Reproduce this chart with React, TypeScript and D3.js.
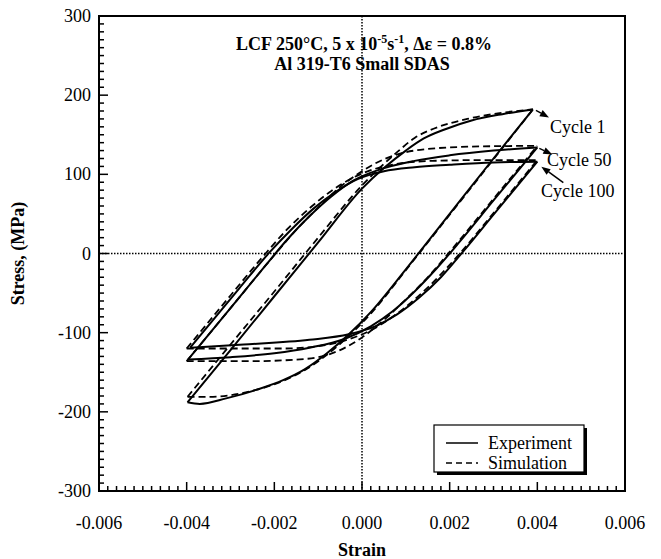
import React from "react";
import * as d3 from "d3";

type Pt = [number, number];

// Stress-strain hysteresis loops, strain (mm/mm) vs stress (MPa).
// Each loop is split into its tensile-going (upper) and compressive-going (lower) branch.
const cycle1ExpUpper: Pt[] = [
  [-0.00398, -188], [-0.003, -122], [-0.002, -54], [-0.001, 14], [0, 82], [0.0005, 108],
  [0.001, 130], [0.0014, 145], [0.0019, 157], [0.0025, 168], [0.0032, 176], [0.0039, 182],
];
const cycle1ExpLower: Pt[] = [
  [0.0039, 182], [0.003, 120], [0.002, 50], [0.001, -20], [0.0002, -74], [-0.0003, -102],
  [-0.0008, -126], [-0.0013, -146], [-0.0018, -160], [-0.0024, -172], [-0.0031, -183],
  [-0.0037, -190], [-0.00398, -188],
];
const cycle1SimUpper: Pt[] = [
  [-0.00398, -181], [-0.003, -115], [-0.002, -48], [-0.001, 20], [0, 86], [0.0004, 108],
  [0.0008, 128], [0.0012, 146], [0.0017, 159], [0.0024, 170], [0.0031, 177], [0.0039, 182],
];
const cycle1SimLower: Pt[] = [
  [0.0039, 182], [0.003, 119], [0.002, 49], [0.001, -21], [0.0002, -76], [-0.0003, -104],
  [-0.0008, -128], [-0.0013, -147], [-0.0018, -161], [-0.0024, -172], [-0.003, -179],
  [-0.0035, -181], [-0.00398, -181],
];

const cycle50ExpUpper: Pt[] = [
  [-0.00397, -134], [-0.003, -69], [-0.0022, -15], [-0.0017, 18], [-0.0012, 47], [-0.0007, 72],
  [-0.0002, 92], [0.0004, 106], [0.0012, 117], [0.002, 124], [0.003, 130], [0.004, 134],
];
const cycle50ExpLower: Pt[] = [
  [0.004, 134], [0.003, 67], [0.0022, 13], [0.0017, -19], [0.0012, -48], [0.0007, -73],
  [0.0002, -92], [-0.0004, -108], [-0.0012, -119], [-0.002, -126], [-0.003, -131], [-0.00397, -134],
];
const cycle50SimUpper: Pt[] = [
  [-0.004, -136], [-0.003, -69], [-0.002, -2], [-0.0015, 30], [-0.001, 58], [-0.0005, 84],
  [0, 104], [0.0005, 119], [0.001, 128], [0.0015, 132], [0.0025, 135], [0.004, 136],
];
const cycle50SimLower: Pt[] = [
  [0.004, 136], [0.003, 69], [0.002, 2], [0.0015, -30], [0.001, -58], [0.0005, -84],
  [0, -106], [-0.0005, -122], [-0.001, -131], [-0.0015, -134], [-0.0025, -136], [-0.004, -136],
];

const cycle100ExpUpper: Pt[] = [
  [-0.00392, -119], [-0.0028, -44], [-0.0021, 2], [-0.0016, 31], [-0.0011, 57], [-0.0006, 78],
  [-0.0001, 94], [0.0005, 104], [0.0012, 109], [0.002, 112], [0.003, 115], [0.004, 116],
];
const cycle100ExpLower: Pt[] = [
  [0.004, 116], [0.003, 49], [0.0023, 2], [0.0018, -30], [0.0013, -56], [0.0008, -77],
  [0.0003, -92], [-0.0003, -102], [-0.0012, -109], [-0.0027, -115], [-0.00392, -119],
];
const cycle100SimUpper: Pt[] = [
  [-0.004, -120], [-0.003, -53], [-0.0022, 0], [-0.0017, 31], [-0.0012, 57], [-0.0007, 79],
  [-0.0002, 96], [0.0003, 107], [0.0009, 114], [0.0016, 117], [0.0028, 118], [0.004, 118],
];
const cycle100SimLower: Pt[] = [
  [0.004, 118], [0.003, 51], [0.0022, -2], [0.0017, -32], [0.0012, -58], [0.0007, -80],
  [0.0002, -97], [-0.0004, -110], [-0.001, -117], [-0.0018, -120], [-0.003, -120], [-0.004, -120],
];

const experimentCurves: Pt[][] = [
  cycle1ExpUpper, cycle1ExpLower, cycle50ExpUpper, cycle50ExpLower, cycle100ExpUpper, cycle100ExpLower,
];
const simulationCurves: Pt[][] = [
  cycle1SimUpper, cycle1SimLower, cycle50SimUpper, cycle50SimLower, cycle100SimUpper, cycle100SimLower,
];

const xTicks = [-0.006, -0.004, -0.002, 0, 0.002, 0.004, 0.006];
const yTicks = [-300, -200, -100, 0, 100, 200, 300];
const cycleLabels = ["Cycle 1", "Cycle 50", "Cycle 100"];
const legendLabels = ["Experiment", "Simulation"];

const W = 661;
const H = 559;
const FONT = "'Liberation Serif', 'Times New Roman', serif";

const x = d3.scaleLinear().domain([-0.006, 0.006]).range([99, 625]);
const y = d3.scaleLinear().domain([-300, 300]).range([491, 16]);

const line = d3
  .line<Pt>()
  .x((d) => x(d[0]))
  .y((d) => y(d[1]))
  .curve(d3.curveMonotoneX);

const xMinor = d3.range(-0.006, 0.00601, 0.0002);
const yMinor = d3.range(-300, 301, 10);

function Arrow({ x1, y1, x2, y2 }: { x1: number; y1: number; x2: number; y2: number }) {
  const ang = Math.atan2(y2 - y1, x2 - x1);
  const len = 9;
  const half = 3.5;
  const bx = x2 - len * Math.cos(ang);
  const by = y2 - len * Math.sin(ang);
  const p1 = [bx + half * Math.sin(ang), by - half * Math.cos(ang)];
  const p2 = [bx - half * Math.sin(ang), by + half * Math.cos(ang)];
  return (
    <g>
      <line x1={x1} y1={y1} x2={bx} y2={by} stroke="#000" strokeWidth={1.5} />
      <polygon points={`${x2},${y2} ${p1[0]},${p1[1]} ${p2[0]},${p2[1]}`} fill="#000" />
    </g>
  );
}

export default function App() {
  const x0 = x(-0.006);
  const x1 = x(0.006);
  const yTop = y(300);
  const yBot = y(-300);

  const tip1 = cycle1ExpUpper[cycle1ExpUpper.length - 1];
  const tip50 = cycle50ExpUpper[cycle50ExpUpper.length - 1];
  const tip100 = cycle100ExpUpper[cycle100ExpUpper.length - 1];

  return (
    <svg
      width={W}
      height={H}
      style={{ position: "absolute", left: 0, top: 0, background: "#fff" }}
      fontFamily={FONT}
    >
      <rect x={0} y={0} width={W} height={H} fill="#fff" />

      {/* zero reference lines */}
      <line x1={x(0)} x2={x(0)} y1={yTop} y2={yBot} stroke="#000" strokeWidth={1.5} strokeDasharray="1.5,1.5" />
      <line x1={x0} x2={x1} y1={y(0)} y2={y(0)} stroke="#000" strokeWidth={1.5} strokeDasharray="1.5,1.5" />

      {/* loops */}
      {simulationCurves.map((c, i) => (
        <path key={`s${i}`} d={line([...c].sort((a, b) => a[0] - b[0])) ?? ""} fill="none" stroke="#000" strokeWidth={1.8} strokeDasharray="7,4" />
      ))}
      {experimentCurves.map((c, i) => (
        <path key={`e${i}`} d={line([...c].sort((a, b) => a[0] - b[0])) ?? ""} fill="none" stroke="#000" strokeWidth={2} strokeLinejoin="round" />
      ))}

      {/* frame */}
      <rect x={x0} y={yTop} width={x1 - x0} height={yBot - yTop} fill="none" stroke="#000" strokeWidth={2} />

      {/* bottom axis ticks */}
      {xMinor.map((v, i) => (
        <line key={`xm${i}`} x1={x(v)} x2={x(v)} y1={yBot} y2={yBot - (i % 10 === 0 ? 9 : 5)} stroke="#000" strokeWidth={1.5} />
      ))}
      {xTicks.map((v) => (
        <text key={`xt${v}`} x={x(v)} y={yBot + 38} textAnchor="middle" fontSize={18}>
          {v.toFixed(3)}
        </text>
      ))}

      {/* left axis ticks */}
      {yMinor.map((v, i) => (
        <line key={`ym${i}`} x1={x0} x2={x0 + (i % 10 === 0 ? 9 : 5)} y1={y(v)} y2={y(v)} stroke="#000" strokeWidth={1.5} />
      ))}
      {yTicks.map((v) => (
        <text key={`yt${v}`} x={x0 - 8} y={y(v) + 6} textAnchor="end" fontSize={18}>
          {v}
        </text>
      ))}

      {/* axis titles */}
      <text x={x(0)} y={556} textAnchor="middle" fontSize={18} fontWeight="bold">
        Strain
      </text>
      <text transform={`translate(24,${y(0)}) rotate(-90)`} textAnchor="middle" fontSize={18} fontWeight="bold">
        Stress, (MPa)
      </text>

      {/* chart title */}
      <text x={x(0) + 2} y={50} textAnchor="middle" fontSize={18} fontWeight="bold">
        LCF 250°C, 5 x 10
        <tspan dy={-7} fontSize={12}>-5</tspan>
        <tspan dy={7}>s</tspan>
        <tspan dy={-7} fontSize={12}>-1</tspan>
        <tspan dy={7}>, Δε = 0.8%</tspan>
      </text>
      <text x={x(0)} y={70} textAnchor="middle" fontSize={18} fontWeight="bold">
        Al 319-T6 Small SDAS
      </text>

      {/* cycle annotations */}
      <Arrow x1={x(tip1[0]) + 3} y1={y(tip1[1]) + 1} x2={x(tip1[0]) + 16} y2={y(tip1[1]) + 8} />
      <text x={550} y={133} fontSize={18}>{cycleLabels[0]}</text>
      <Arrow x1={x(tip50[0]) + 2} y1={y(tip50[1]) + 1} x2={x(tip50[0]) + 15} y2={y(tip50[1]) + 7} />
      <text x={547} y={166} fontSize={18}>{cycleLabels[1]}</text>
      <Arrow x1={x(tip100[0]) + 26} y1={y(tip100[1]) + 21} x2={x(tip100[0]) + 4} y2={y(tip100[1]) + 5} />
      <text x={541} y={197} fontSize={18}>{cycleLabels[2]}</text>

      {/* legend */}
      <g>
        <rect x={437} y={428} width={150} height={47} fill="#000" />
        <rect x={434} y={425} width={150} height={47} fill="#fff" stroke="#000" strokeWidth={1.2} />
        <line x1={446} x2={478} y1={443} y2={443} stroke="#000" strokeWidth={1.5} />
        <text x={488} y={449} fontSize={18}>{legendLabels[0]}</text>
        <line x1={446} x2={478} y1={463} y2={463} stroke="#000" strokeWidth={1.5} strokeDasharray="6,4" />
        <text x={488} y={469} fontSize={18}>{legendLabels[1]}</text>
      </g>
    </svg>
  );
}
